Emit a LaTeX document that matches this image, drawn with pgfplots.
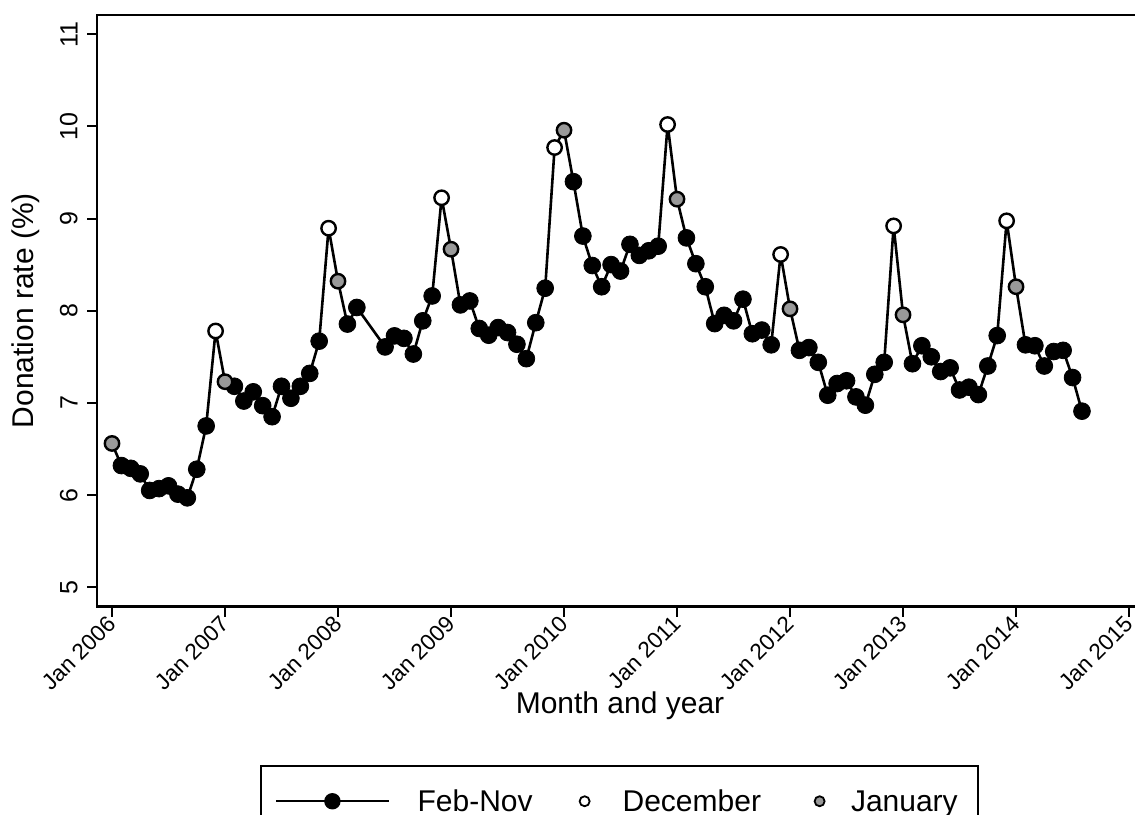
\documentclass[border=0pt]{standalone}
\usepackage{fontspec}
\setmainfont{Liberation Sans}
\usepackage{pgfplots}
\usepackage{pgfplotstable}
\pgfplotsset{compat=1.18}
\definecolor{mgray}{RGB}{153,153,153}
% m = months since Jan 2006, v = donation rate, t = 0 Feb-Nov, 1 December, 2 January
\pgfplotstableread{
m v t
0 6.56 2
1 6.32 0
2 6.29 0
3 6.23 0
4 6.05 0
5 6.07 0
6 6.10 0
7 6.01 0
8 5.97 0
9 6.28 0
10 6.75 0
11 7.78 1
12 7.23 2
13 7.18 0
14 7.02 0
15 7.12 0
16 6.97 0
17 6.85 0
18 7.18 0
19 7.05 0
20 7.18 0
21 7.32 0
22 7.67 0
23 8.895 1
24 8.32 2
25 7.855 0
26 8.035 0
29 7.607 0
30 7.727 0
31 7.70 0
32 7.53 0
33 7.89 0
34 8.16 0
35 9.225 1
36 8.667 2
37 8.063 0
38 8.106 0
39 7.807 0
40 7.734 0
41 7.817 0
42 7.763 0
43 7.636 0
44 7.48 0
45 7.87 0
46 8.244 0
47 9.77 1
48 9.958 2
49 9.40 0
50 8.81 0
51 8.49 0
52 8.26 0
53 8.50 0
54 8.43 0
55 8.72 0
56 8.60 0
57 8.65 0
58 8.70 0
59 10.02 1
60 9.21 2
61 8.79 0
62 8.51 0
63 8.26 0
64 7.86 0
65 7.95 0
66 7.89 0
67 8.125 0
68 7.75 0
69 7.79 0
70 7.63 0
71 8.61 1
72 8.02 2
73 7.57 0
74 7.60 0
75 7.44 0
76 7.083 0
77 7.21 0
78 7.24 0
79 7.065 0
80 6.975 0
81 7.31 0
82 7.44 0
83 8.92 1
84 7.955 2
85 7.425 0
86 7.62 0
87 7.50 0
88 7.34 0
89 7.38 0
90 7.14 0
91 7.17 0
92 7.09 0
93 7.40 0
94 7.73 0
95 8.975 1
96 8.26 2
97 7.63 0
98 7.62 0
99 7.40 0
100 7.557 0
101 7.57 0
102 7.275 0
103 6.91 0
}\data
\begin{document}
\begin{tikzpicture}
\begin{axis}[name=ax,
  scale only axis, width=520.5pt, height=295.75pt,
  xmin=-1.593, xmax=108.95, ymin=4.791, ymax=11.208,
  axis line style={line width=1.3pt},
  tick style={black, line width=1pt},
  major tick length=5pt, tick align=outside,
  xtick pos=bottom, ytick pos=left,
  xtick={0,12,...,108},
  xticklabels={Jan 2006,Jan 2007,Jan 2008,Jan 2009,Jan 2010,Jan 2011,Jan 2012,Jan 2013,Jan 2014,Jan 2015},
  ytick={5,6,...,11},
  minor tick num=0,
  /pgf/number format/assume math mode=true,
  yticklabel style={rotate=90, anchor=south, inner sep=0pt, font=\fontsize{12.5}{14}\selectfont},
  yticklabel shift=4.5pt,
  xticklabel style={rotate=45, anchor=east, inner sep=0pt, font=\fontsize{11.3}{13}\selectfont},
  xticklabel shift=1.6pt,
  xlabel={Month and year}, ylabel={Donation rate (\%)},
  label style={font=\fontsize{15}{18}\selectfont},
  xlabel style={at={(axis description cs:0.5024,-0.168)}, anchor=center},
  ylabel style={at={(axis description cs:-0.0682,0.5)}, anchor=center},
  legend columns=3,
  legend style={at={(axis description cs:0.5018,-0.2678)}, anchor=north,
    draw=black, line width=1pt, inner xsep=7pt, inner ysep=12pt,
    font=\fontsize{15}{18}\selectfont,
    cells={anchor=base}, nodes={inner sep=0pt}, column sep=0pt},
]
\addplot[black, line width=1.3pt, line join=round, mark=none, forget plot] table[x=m,y=v]{\data};
\addplot[only marks, mark=*, mark size=4.2pt, mark options={fill=black, draw=none},
  restrict expr to domain={\thisrow{t}}{0:0},
  legend image code/.code={
    \path[draw=none, fill=none] (0pt,0pt) rectangle (70.8pt,0.1pt);
    \draw[black, line width=1pt] (0pt,5.2pt) -- (56.3pt,5.2pt);
    \fill[black] (28.2pt,5.2pt) circle (3.6pt);
  }] table[x=m,y=v]{\data};
\addplot[only marks, mark=*, mark size=3.6pt, mark options={fill=white, draw=black, line width=1.2pt},
  restrict expr to domain={\thisrow{t}}{1:1},
  legend image code/.code={
    \path[draw=none, fill=none] (0pt,0pt) rectangle (45pt,0.1pt);
    \filldraw[fill=white, draw=black, line width=0.9pt] (26pt,5.2pt) circle (2.5pt);
  }] table[x=m,y=v]{\data};
\addplot[only marks, mark=*, mark size=3.6pt, mark options={fill=mgray, draw=black, line width=1.2pt},
  restrict expr to domain={\thisrow{t}}{2:2},
  legend image code/.code={
    \path[draw=none, fill=none] (0pt,0pt) rectangle (45pt,0.1pt);
    \filldraw[fill=mgray, draw=black, line width=0.9pt] (29.3pt,5.2pt) circle (2.5pt);
  }] table[x=m,y=v]{\data};
\legend{Feb-Nov,December,January\hspace*{3pt}}
\end{axis}
\pgfresetboundingbox
\path ([shift={(-48.5pt,-104pt)}]ax.south west) rectangle ([shift={(-1.5pt,7.5pt)}]ax.north east);
\end{tikzpicture}
\end{document}
